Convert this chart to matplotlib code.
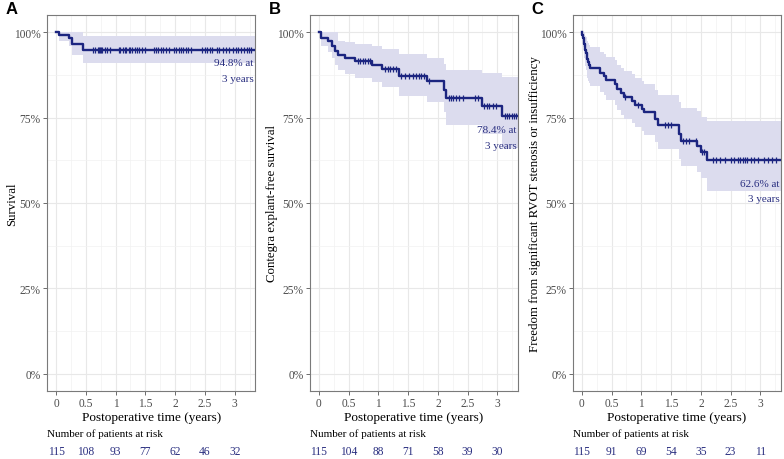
import numpy as np
import matplotlib
matplotlib.use('Agg')
import matplotlib.pyplot as plt
from matplotlib.transforms import blended_transform_factory
from matplotlib.ticker import MultipleLocator, FuncFormatter

plt.rcParams['font.family'] = ['Liberation Serif', 'DejaVu Serif']

# ---- data ----
# A: survival
a_time = [0.0, 0.05, 0.22, 0.26, 0.46]
a_surv = [1.0, 0.991, 0.983, 0.965, 0.948]
a_upper = [1.0, 1.0, 1.0, 1.0, 0.989]
a_lower = [1.0, 0.974, 0.959, 0.932, 0.909]
a_cens = [0.62, 0.66, 0.70, 0.72, 0.74, 0.76, 0.78, 0.82, 0.86, 0.90,
          1.05, 1.08, 1.12, 1.15, 1.18, 1.22, 1.25, 1.28, 1.32, 1.36, 1.40, 1.45, 1.50,
          1.64, 1.68, 1.72, 1.76, 1.80, 1.85, 1.89,
          1.98, 2.02, 2.06, 2.10, 2.14, 2.18, 2.22, 2.26,
          2.45, 2.50, 2.54, 2.58, 2.62, 2.70, 2.74, 2.80, 2.86, 2.90,
          2.98, 3.02, 3.05, 3.10, 3.15, 3.20, 3.24, 3.28]
a_risk = [115, 108, 93, 77, 62, 46, 32]

# B: Contegra explant-free survival
b_time = [0.0, 0.03, 0.16, 0.23, 0.28, 0.33, 0.44, 0.61, 0.89, 1.06, 1.34, 1.82, 2.10, 2.14, 2.74, 3.08]
b_surv = [1.0, 0.983, 0.973, 0.960, 0.945, 0.933, 0.923, 0.914, 0.904, 0.892, 0.872, 0.858, 0.832, 0.807, 0.784, 0.755]
b_upper = [1.0, 1.0, 1.0, 1.0, 1.0, 0.975, 0.970, 0.966, 0.958, 0.950, 0.935, 0.925, 0.906, 0.890, 0.880, 0.868]
b_lower = [1.0, 0.958, 0.942, 0.925, 0.905, 0.890, 0.876, 0.866, 0.853, 0.838, 0.812, 0.795, 0.765, 0.728, 0.702, 0.660]
b_cens = [0.66, 0.70, 0.74, 0.78, 0.82, 0.86, 1.12, 1.16, 1.20, 1.25, 1.29, 1.38, 1.45,
          1.52, 1.58, 1.64, 1.68, 1.72, 1.76, 1.86, 2.18, 2.22, 2.26, 2.30, 2.36, 2.42,
          2.62, 2.68, 2.78, 2.82, 2.86, 2.92, 2.98, 3.12, 3.16, 3.20, 3.24, 3.28, 3.32]
b_risk = [115, 104, 88, 71, 58, 39, 30]

# C: freedom from RVOT stenosis / insufficiency
c_time = [0.0, 0.01, 0.02, 0.03, 0.04, 0.05, 0.06, 0.07, 0.08, 0.09, 0.10, 0.12, 0.14,
          0.31, 0.37, 0.41, 0.56, 0.60, 0.66, 0.71, 0.84, 0.90, 1.01, 1.05, 1.23, 1.28,
          1.63, 1.66, 1.94, 2.00, 2.11]
c_surv = [1.0, 0.991, 0.983, 0.974, 0.965, 0.956, 0.947, 0.938, 0.930, 0.921, 0.912, 0.903, 0.895,
          0.880, 0.872, 0.860, 0.848, 0.833, 0.821, 0.811, 0.799, 0.787, 0.775, 0.765, 0.745, 0.728,
          0.702, 0.682, 0.668, 0.650, 0.626]
c_upper = [1.0, 1.0, 1.0, 1.0, 1.0, 0.995, 0.990, 0.985, 0.980, 0.975, 0.968, 0.962, 0.955,
           0.943, 0.937, 0.928, 0.918, 0.905, 0.895, 0.887, 0.877, 0.867, 0.857, 0.849, 0.832, 0.817,
           0.796, 0.778, 0.768, 0.752, 0.741]
c_lower = [1.0, 0.975, 0.955, 0.940, 0.925, 0.912, 0.900, 0.888, 0.876, 0.866, 0.857, 0.850, 0.843,
           0.825, 0.815, 0.800, 0.788, 0.772, 0.758, 0.747, 0.735, 0.722, 0.710, 0.699, 0.677, 0.658,
           0.630, 0.608, 0.592, 0.572, 0.536]
c_cens = [0.72, 0.95, 1.40, 1.45, 1.50, 1.70, 1.75, 1.80, 1.92, 2.02, 2.06,
          2.20, 2.26, 2.32, 2.40, 2.50, 2.56, 2.62, 2.66, 2.70, 2.74, 2.78, 2.84, 2.90,
          2.96, 3.06, 3.12, 3.20, 3.26]
c_risk = [115, 91, 69, 54, 35, 23, 11]

risk_times = [0, 0.5, 1, 1.5, 2, 2.5, 3]
ylabels = ['Survival', 'Contegra explant-free survival',
           'Freedom from significant RVOT stenosis or insufficiency']
note_top = ['94.8% at', '78.4% at', '62.6% at']
note_bottom = '3 years'
note_y = [0.91, 0.714, 0.558]
panel_tags = ['A', 'B', 'C']
t_end = 3.36

line_col = '#1c2580'
fill_col = '#dcdcee'
text_col = '#2a2f80'
grey_txt = '#4d4d4d'

fig = plt.figure(figsize=(7.84, 4.6), dpi=100)
lefts = [47, 309.7, 572.7]
width = 208.5
bottom = 1 - 392 / 460
height = (392 - 16) / 460
label_x = [-0.14, -0.152, -0.152]

panels = [(a_time, a_surv, a_upper, a_lower, a_cens, a_risk),
          (b_time, b_surv, b_upper, b_lower, b_cens, b_risk),
          (c_time, c_surv, c_upper, c_lower, c_cens, c_risk)]

for i, (t, s, up, lo, cens, risk) in enumerate(panels):
    ax = fig.add_axes([lefts[i] / 784, bottom, width / 784, height])
    tt = np.append(t, t_end)
    ss = np.append(s, s[-1])
    uu = np.append(up, up[-1])
    ll = np.append(lo, lo[-1])
    ax.fill_between(tt, ll, uu, step='post', color=fill_col, lw=0, zorder=2)
    ax.plot(tt, ss, drawstyle='steps-post', color=line_col, lw=1.7, zorder=3)
    idx = np.searchsorted(t, cens, side='right') - 1
    ax.plot(cens, np.array(s)[idx], ls='none', marker='|', ms=4, mew=0.9,
            color=line_col, zorder=4)

    ax.set_xlim(-0.152, 3.35)
    ax.set_ylim(-0.05, 1.05)
    ax.xaxis.set_major_locator(MultipleLocator(0.5))
    ax.xaxis.set_minor_locator(MultipleLocator(0.25))
    ax.yaxis.set_major_locator(MultipleLocator(0.25))
    ax.yaxis.set_minor_locator(MultipleLocator(0.125))
    ax.xaxis.set_major_formatter(FuncFormatter(lambda v, p: '%g' % v))
    ax.yaxis.set_major_formatter(FuncFormatter(lambda v, p: '%d%%' % round(v * 100)))
    ax.grid(which='major', color='#e8e8e8', lw=0.8, zorder=0)
    ax.grid(which='minor', color='#f2f2f2', lw=0.5, zorder=0)
    ax.set_axisbelow(True)
    for sp in ax.spines.values():
        sp.set_color('#7a7a7a')
        sp.set_linewidth(0.8)
    ax.tick_params(which='major', length=3, width=0.6, color='#555555',
                   labelcolor=grey_txt, labelsize=8.3, pad=1.5)
    ax.tick_params(which='minor', length=0)

    ax.set_xlabel('Postoperative time (years)', fontsize=9.5, color='black', labelpad=1)
    ax.set_ylabel(ylabels[i], fontsize=9.3, color='black')
    ax.yaxis.set_label_coords(label_x[i], 0.5)

    ax.text(3.32, note_y[i], note_top[i], ha='right', va='center', fontsize=8,
            color=text_col, zorder=5)
    ax.text(3.32, note_y[i] - 0.045, note_bottom, ha='right', va='center', fontsize=8,
            color=text_col, zorder=5)

    tr = blended_transform_factory(ax.transData, fig.transFigure)
    for x, n in zip(risk_times, risk):
        ax.text(x, 1 - 452 / 460, str(n), transform=tr, ha='center', va='center',
                fontsize=8.3, color=text_col)
    fig.text(lefts[i] / 784, 1 - 434 / 460, 'Number of patients at risk', ha='left',
             va='center', fontsize=8, color='black')
    fig.text((lefts[i] - 41) / 784, 1 - 10 / 460, panel_tags[i], ha='left', va='center',
             fontsize=12, fontweight='bold', family='Liberation Sans')

fig.savefig('out.png', dpi=100)
